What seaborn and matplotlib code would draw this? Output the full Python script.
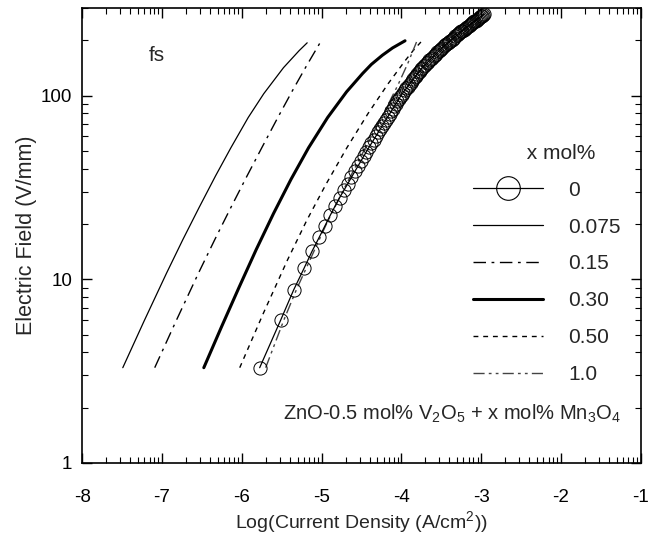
import numpy as np
import pandas as pd
import matplotlib
matplotlib.use("Agg")
import matplotlib.pyplot as plt
from matplotlib.ticker import FixedLocator, NullFormatter, FixedFormatter
from matplotlib.lines import Line2D
import seaborn as sns

# ---------------- data ----------------
# x = 0 mol% (open circles)
e_0 = [3.30, 6.02, 8.74, 11.46, 14.18, 16.90, 19.62, 22.34, 25.06, 27.78,
       30.50, 33.22, 35.94, 38.66, 41.38, 44.10, 46.82, 49.54, 52.26, 54.98,
       57.70, 60.42, 63.14, 65.86, 68.58, 71.30, 74.02, 76.74, 79.46, 82.18,
       84.90, 87.62, 90.34, 93.06, 95.78, 98.50, 101.2, 103.9, 106.7, 109.4,
       112.1, 114.8, 117.5, 120.3, 123.0, 125.7, 128.4, 131.1, 133.9, 136.6,
       139.3, 142.0, 144.7, 147.5, 150.2, 152.9, 155.6, 158.3, 161.1, 163.8,
       166.5, 169.2, 171.9, 174.7, 177.4, 180.1, 182.8, 185.5, 188.3, 191.0,
       193.7, 196.4, 199.1, 201.9, 204.6, 207.3, 210.0, 212.7, 215.5, 218.2,
       220.9, 223.6, 226.3, 229.1, 231.8, 234.5, 237.2, 239.9, 242.7, 245.4,
       248.1, 250.8, 253.5, 256.3, 259.0, 261.7, 264.4, 267.1, 269.9, 272.6,
       275.3, 278.0]
j_0 = [-5.775, -5.51, -5.35, -5.22, -5.12, -5.03, -4.955, -4.89, -4.83, -4.775,
       -4.72, -4.67, -4.625, -4.583, -4.543, -4.506, -4.471, -4.438, -4.406, -4.375,
       -4.345, -4.317, -4.290, -4.264, -4.239, -4.215, -4.192, -4.170, -4.148, -4.127,
       -4.107, -4.087, -4.068, -4.050, -4.032, -4.015, -3.998, -3.980, -3.960, -3.940,
       -3.922, -3.903, -3.885, -3.867, -3.850, -3.833, -3.817, -3.801, -3.785, -3.769,
       -3.754, -3.739, -3.720, -3.701, -3.683, -3.665, -3.648, -3.631, -3.613, -3.597,
       -3.580, -3.564, -3.548, -3.532, -3.517, -3.502, -3.487, -3.470, -3.452, -3.436,
       -3.419, -3.403, -3.386, -3.370, -3.354, -3.339, -3.323, -3.308, -3.293, -3.278,
       -3.264, -3.249, -3.235, -3.219, -3.203, -3.188, -3.173, -3.158, -3.143, -3.128,
       -3.114, -3.100, -3.086, -3.071, -3.058, -3.044, -3.030, -3.016, -3.002, -2.988,
       -2.975, -2.962]

# x = 0.075 mol%
j_0075 = [-7.49, -7.225, -6.942, -6.736, -6.534, -6.329, -6.134, -5.919, -5.724, -5.477, -5.28, -5.18]
e_0075 = [3.3, 5.9, 10.8, 16.5, 24.6, 36.5, 52.2, 76.0, 102.5, 142.0, 176.0, 194.0]

# x = 0.15 mol%
j_015 = [-7.09, -6.825, -6.542, -6.336, -6.136, -5.934, -5.747, -5.555, -5.367, -5.190, -5.013]
e_015 = [3.3, 5.9, 10.8, 16.5, 24.6, 36.5, 52.2, 75.0, 106.0, 145.0, 196.0]

# x = 0.30 mol%
j_030 = [-6.475, -6.254, -6.033, -5.819, -5.602, -5.383, -5.163, -4.924, -4.686, -4.486,
         -4.376, -4.238, -4.110, -3.954]
e_030 = [3.3, 5.5, 9.05, 14.5, 22.8, 35.0, 52.0, 76.0, 105.0, 132.0,
         148.0, 166.0, 182.0, 199.0]

# x = 0.50 mol%
j_050 = [-6.025, -5.731, -5.428, -5.186, -4.943, -4.683, -4.417, -4.167, -3.953, -3.852, -3.755]
e_050 = [3.3, 6.5, 12.7, 20.9, 33.0, 52.0, 80.0, 116.0, 155.0, 176.0, 196.0]

# x = 1.0 mol%
j_100 = [-5.70, -5.472, -5.314, -4.939, -4.737, -4.471, -4.222, -4.040, -3.919, -3.81]
e_100 = [3.3, 6.0, 8.8, 20.0, 30.0, 50.0, 80.0, 115.0, 150.0, 196.0]

labels = ["0", "0.075", "0.15", "0.30", "0.50", "1.0"]
x_ticks = [-8, -7, -6, -5, -4, -3, -2, -1]
y_ticks = [1, 10, 100]
y_tick_labels = ["1", "10", "100"]

# ---------------- style ----------------
sns.set_theme(style="ticks")
plt.rcParams["font.family"] = ["Liberation Sans", "DejaVu Sans"]
plt.rcParams["mathtext.fontset"] = "custom"
plt.rcParams["mathtext.rm"] = "Liberation Sans"
plt.rcParams["mathtext.it"] = "Liberation Sans"
plt.rcParams["mathtext.default"] = "regular"
plt.rcParams["axes.unicode_minus"] = False

fig = plt.figure(figsize=(6.62, 5.37), dpi=100)
ax = fig.add_axes([0.124, 0.138, 0.844, 0.847])

fs_tick = 13.5
fs_leg = 15

dd_015 = (0, (9, 4, 2, 4))
dot_050 = (0, (3.5, 3.5))
dd_100 = (0, (8, 3, 2, 3, 2, 3))

series = [
    (j_0075, e_0075, dict(color="black", lw=0.9, ls="-")),
    (j_015, e_015, dict(color="black", lw=1.0, ls=dd_015)),
    (j_030, e_030, dict(color="black", lw=2.2, ls="-")),
    (j_050, e_050, dict(color="black", lw=1.0, ls=dot_050)),
    (j_100, e_100, dict(color="#444444", lw=1.0, ls=dd_100)),
]
for xs, ys, kw in series:
    df = pd.DataFrame({"j": xs, "e": ys})
    sns.lineplot(data=df, x="j", y="e", ax=ax, sort=False, estimator=None,
                 color=kw["color"], linewidth=kw["lw"], linestyle=kw["ls"])

df0 = pd.DataFrame({"j": j_0, "e": e_0})
sns.lineplot(data=df0, x="j", y="e", ax=ax, sort=False, estimator=None,
             color="black", linewidth=0.9, marker="o", markersize=9.5,
             markerfacecolor="none", markeredgecolor="black", markeredgewidth=0.7)

ax.set_yscale("log")
ax.set_xlim(-8, -1)
ax.set_ylim(1, 300)

ax.xaxis.set_major_locator(FixedLocator(x_ticks))
minor_x = [d + np.log10(k) for d in range(-8, -1) for k in range(2, 10)]
ax.xaxis.set_minor_locator(FixedLocator(minor_x))
ax.yaxis.set_major_locator(FixedLocator(y_ticks))
ax.yaxis.set_major_formatter(FixedFormatter(y_tick_labels))
minor_y = [d * k for d in (1, 10, 100) for k in range(2, 10) if d * k <= 300]
ax.yaxis.set_minor_locator(FixedLocator(minor_y))
ax.yaxis.set_minor_formatter(NullFormatter())

ax.tick_params(which="both", direction="in", top=True, right=True, colors="black",
               labelsize=fs_tick)
ax.tick_params(which="major", length=7, width=1.0)
ax.tick_params(which="minor", length=4, width=0.8)
ax.tick_params(axis="x", which="major", pad=19)
ax.tick_params(axis="y", which="major", pad=7)
for s in ax.spines.values():
    s.set_color("black")
    s.set_linewidth(1.2)

ax.set_xlabel("Log(Current Density (A/cm$^2$))", fontsize=14, labelpad=2)
ax.set_ylabel("Electric Field (V/mm)", fontsize=15.5, labelpad=3)

ax.text(0.134, 0.895, "fs", transform=ax.transAxes, fontsize=15,
        ha="center", va="center")
ax.text(0.662, 0.108, "ZnO-0.5 mol% V$_2$O$_5$ + x mol% Mn$_3$O$_4$",
        transform=ax.transAxes, fontsize=14.5, ha="center", va="center")

handles = [
    Line2D([], [], color="black", lw=0.9, marker="o", markersize=17,
           markerfacecolor="none", markeredgewidth=0.8),
    Line2D([], [], color="black", lw=0.9, ls="-"),
    Line2D([], [], color="black", lw=1.0, ls=dd_015),
    Line2D([], [], color="black", lw=2.2, ls="-"),
    Line2D([], [], color="black", lw=1.0, ls=dot_050),
    Line2D([], [], color="#444444", lw=1.0, ls=dd_100),
]
leg = ax.legend(handles, labels, title="     x mol%", frameon=False, fontsize=fs_leg,
                title_fontsize=fs_leg, handlelength=3.37, handletextpad=1.2,
                labelspacing=0.86, loc="upper left",
                bbox_to_anchor=(0.685, 0.72), borderaxespad=0)

fig.savefig("out.png", dpi=100)
